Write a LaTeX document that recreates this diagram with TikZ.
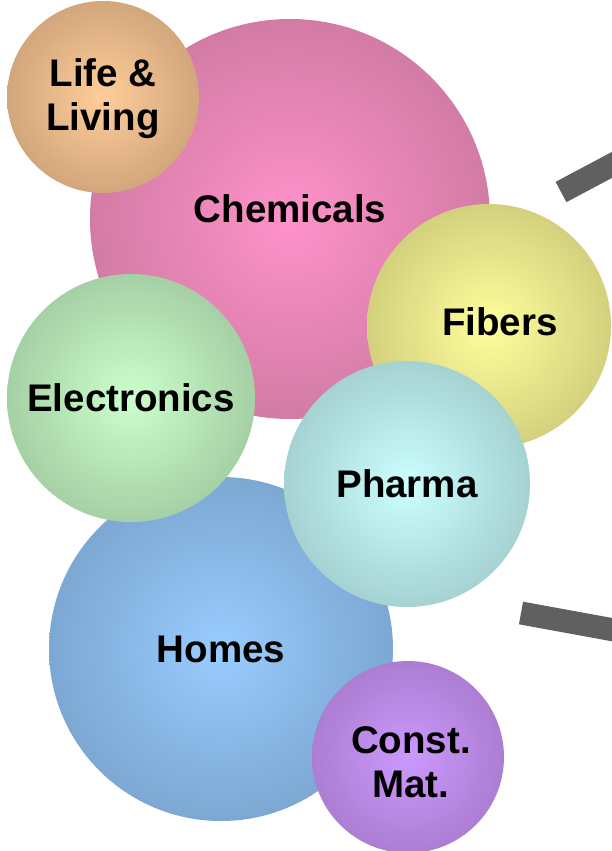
\documentclass[tikz,border=0pt]{standalone}
\usepackage{fontspec}
\setmainfont{Liberation Sans}
\usepackage{tikz}

\definecolor{chemIn}{HTML}{FF92CA}
\definecolor{chemOut}{HTML}{C47499}
\definecolor{lifeIn}{HTML}{FFCD9A}
\definecolor{lifeOut}{HTML}{C49A72}
\definecolor{fibIn}{HTML}{FFFF9C}
\definecolor{fibOut}{HTML}{C6C274}
\definecolor{elecIn}{HTML}{CCFFCC}
\definecolor{elecOut}{HTML}{99C199}
\definecolor{pharIn}{HTML}{CCFFFF}
\definecolor{pharOut}{HTML}{99C3C3}
\definecolor{homeIn}{HTML}{99CCFF}
\definecolor{homeOut}{HTML}{739CC4}
\definecolor{consIn}{HTML}{CC99FF}
\definecolor{consOut}{HTML}{A275C4}
\definecolor{barGray}{HTML}{606060}

\colorlet{bubin}{white}
\colorlet{bubout}{black}
\pgfdeclareradialshading[bubin,bubout]{bubble}{\pgfpoint{0bp}{0bp}}
    {color(0bp)=(bubin); color(33bp)=(bubout); color(50bp)=(bubout)}

\tikzset{
    every node/.style = {font=\bfseries\fontsize{38.5}{44}\selectfont},
    bubble/.style n args = {3}{circle, minimum size=#1, inner sep=0pt,
        align=center, /utils/exec={\colorlet{bubin}{#2}\colorlet{bubout}{#3}},
        shade, shading=bubble},
    bar/.style = {draw=barGray, line width=23pt}
}

\begin{document}
\begin{tikzpicture}[x=1pt, y=-1pt]
    \useasboundingbox (0, 0) rectangle (611, 851);

    % 两根灰条
    \draw[bar] (561, 192) -- (625, 158);
    \draw[bar] (521, 613) -- (625, 632);

    \node[bubble={400pt}{chemIn}{chemOut},
        label={[yshift=10pt]center:Chemicals}] (chem) at (290, 219) {};
    \node[bubble={192pt}{lifeIn}{lifeOut},
        label={[yshift=-2pt, align=center]center:Life \&\\Living}]
        (life) at (103, 97) {};
    \node[bubble={244pt}{fibIn}{fibOut},
        label={[xshift=11pt, yshift=4pt]center:Fibers}] (fib) at (489, 326) {};
    \node[bubble={344pt}{homeIn}{homeOut}] (home) at (221, 649) {Homes};
    \node[bubble={248pt}{elecIn}{elecOut}] (elec) at (131, 398) {Electronics};
    \node[bubble={246pt}{pharIn}{pharOut}] (phar) at (407, 484) {Pharma};
    \node[bubble={192pt}{consIn}{consOut},
        label={[xshift=3pt, yshift=-5pt, align=center]center:Const.\\Mat.}]
        (cons) at (408, 757) {};
\end{tikzpicture}
\end{document}
